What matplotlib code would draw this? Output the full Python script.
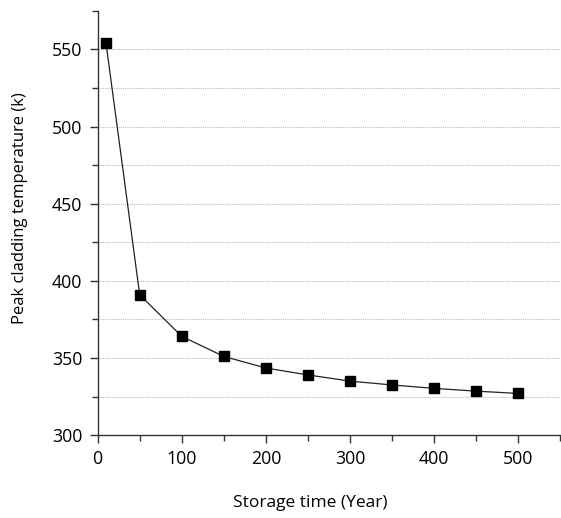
import numpy as np
import matplotlib.pyplot as plt
from matplotlib.ticker import MultipleLocator

# storage time (years) and peak cladding temperature (k)
years = [10, 50, 100, 150, 200, 250, 300, 350, 400, 450, 500]
temps = [554, 391, 364, 351, 343.5, 339, 335, 332.5, 330.3, 328.5, 327]

plt.rcParams['font.family'] = ['Open Sans', 'DejaVu Sans']

fig = plt.figure(figsize=(5.61, 5.18), dpi=100)
ax = fig.add_axes([0.174, 0.16, 0.825, 0.819])

# dotted grid every 25 k
for yv in np.arange(325, 575, 25):
    ax.axhline(yv, color='#b8b8b8', lw=0.8, ls=(0, (1, 1)), zorder=0)

ax.plot(years, temps, color='#222222', lw=0.9, marker='s', ms=7,
        mfc='black', mec='black', zorder=3)

ax.set_xlim(0, 550)
ax.set_ylim(300, 575)
ax.xaxis.set_minor_locator(MultipleLocator(50))
ax.yaxis.set_minor_locator(MultipleLocator(25))
ax.set_xticks([0, 100, 200, 300, 400, 500])
ax.set_yticks([300, 350, 400, 450, 500, 550])

for s in ['top', 'right']:
    ax.spines[s].set_visible(False)
for s in ['left', 'bottom']:
    ax.spines[s].set_color('#333333')
    ax.spines[s].set_linewidth(1.0)

ax.tick_params(which='major', length=6, width=1, color='#333333',
               labelsize=12.8, pad=5)
ax.tick_params(which='minor', length=4, width=1, color='#333333')

ax.set_xlabel('Storage time (Year)', fontsize=12.5)
ax.set_ylabel('Peak cladding temperature (k)', fontsize=12)
ax.xaxis.set_label_coords(0.459, -0.141)
ax.yaxis.set_label_coords(-0.150, 0.535)

fig.savefig('out.png', dpi=100)
